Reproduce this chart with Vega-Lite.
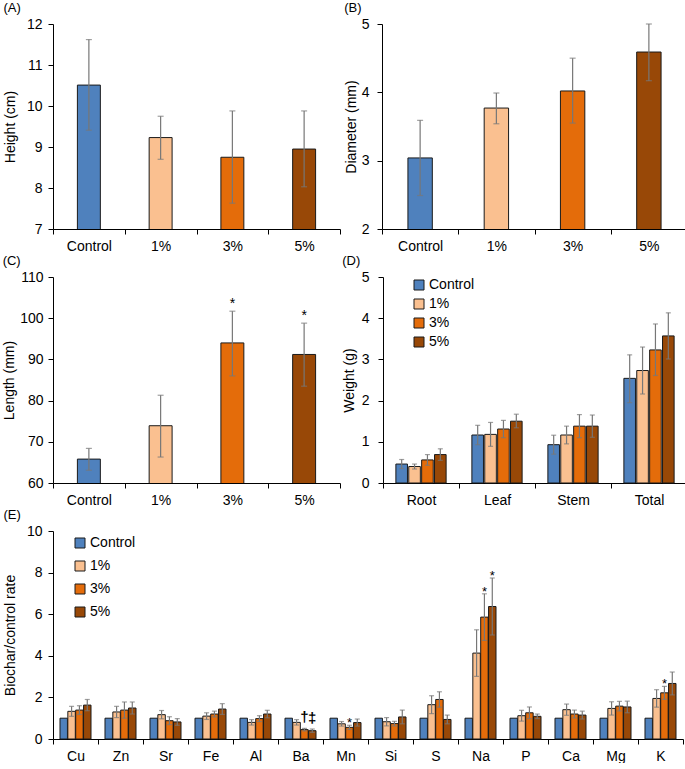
{
  "$schema": "https://vega.github.io/schema/vega-lite/v6.json",
  "background": "white",
  "padding": {"left": 2, "top": 2, "right": 0, "bottom": 0},
  "datasets": {
    "A": [
      {"g": "Control", "m": 10.51, "lo": 9.41, "hi": 11.62},
      {"g": "1%", "m": 9.23, "lo": 8.70, "hi": 9.75},
      {"g": "3%", "m": 8.75, "lo": 7.63, "hi": 9.88},
      {"g": "5%", "m": 8.95, "lo": 8.03, "hi": 9.88}
    ],
    "B": [
      {"g": "Control", "m": 3.04, "lo": 2.49, "hi": 3.59},
      {"g": "1%", "m": 3.77, "lo": 3.54, "hi": 3.99},
      {"g": "3%", "m": 4.02, "lo": 3.55, "hi": 4.50},
      {"g": "5%", "m": 4.59, "lo": 4.17, "hi": 5.00}
    ],
    "C": [
      {"g": "Control", "m": 65.8, "lo": 63.1, "hi": 68.4, "s": ""},
      {"g": "1%", "m": 73.9, "lo": 66.3, "hi": 81.3, "s": ""},
      {"g": "3%", "m": 94.0, "lo": 86.0, "hi": 101.7, "s": "*"},
      {"g": "5%", "m": 91.2, "lo": 83.5, "hi": 98.8, "s": "*"}
    ],
    "D": [
      {"c": "Root", "g": "Control", "m": 0.46, "lo": 0.35, "hi": 0.57},
      {"c": "Root", "g": "1%", "m": 0.40, "lo": 0.34, "hi": 0.46},
      {"c": "Root", "g": "3%", "m": 0.56, "lo": 0.43, "hi": 0.69},
      {"c": "Root", "g": "5%", "m": 0.69, "lo": 0.55, "hi": 0.83},
      {"c": "Leaf", "g": "Control", "m": 1.165, "lo": 0.93, "hi": 1.40},
      {"c": "Leaf", "g": "1%", "m": 1.18, "lo": 0.89, "hi": 1.47},
      {"c": "Leaf", "g": "3%", "m": 1.31, "lo": 1.10, "hi": 1.52},
      {"c": "Leaf", "g": "5%", "m": 1.50, "lo": 1.34, "hi": 1.67},
      {"c": "Stem", "g": "Control", "m": 0.93, "lo": 0.70, "hi": 1.16},
      {"c": "Stem", "g": "1%", "m": 1.165, "lo": 0.95, "hi": 1.38},
      {"c": "Stem", "g": "3%", "m": 1.38, "lo": 1.10, "hi": 1.66},
      {"c": "Stem", "g": "5%", "m": 1.38, "lo": 1.11, "hi": 1.65},
      {"c": "Total", "g": "Control", "m": 2.54, "lo": 1.95, "hi": 3.11},
      {"c": "Total", "g": "1%", "m": 2.73, "lo": 2.16, "hi": 3.30},
      {"c": "Total", "g": "3%", "m": 3.23, "lo": 2.61, "hi": 3.86},
      {"c": "Total", "g": "5%", "m": 3.57, "lo": 3.01, "hi": 4.13}
    ],
    "E": [
      {"c": "Cu", "g": "Control", "m": 1, "lo": null, "hi": null, "s": "", "d": ""},
      {"c": "Cu", "g": "1%", "m": 1.33, "lo": 1.09, "hi": 1.57, "s": "", "d": ""},
      {"c": "Cu", "g": "3%", "m": 1.39, "lo": 1.18, "hi": 1.60, "s": "", "d": ""},
      {"c": "Cu", "g": "5%", "m": 1.63, "lo": 1.36, "hi": 1.90, "s": "", "d": ""},
      {"c": "Zn", "g": "Control", "m": 1, "lo": null, "hi": null, "s": "", "d": ""},
      {"c": "Zn", "g": "1%", "m": 1.30, "lo": 1.03, "hi": 1.57, "s": "", "d": ""},
      {"c": "Zn", "g": "3%", "m": 1.39, "lo": 1.00, "hi": 1.78, "s": "", "d": ""},
      {"c": "Zn", "g": "5%", "m": 1.49, "lo": 1.20, "hi": 1.78, "s": "", "d": ""},
      {"c": "Sr", "g": "Control", "m": 1, "lo": null, "hi": null, "s": "", "d": ""},
      {"c": "Sr", "g": "1%", "m": 1.17, "lo": 0.97, "hi": 1.37, "s": "", "d": ""},
      {"c": "Sr", "g": "3%", "m": 0.88, "lo": 0.69, "hi": 1.07, "s": "", "d": ""},
      {"c": "Sr", "g": "5%", "m": 0.82, "lo": 0.66, "hi": 0.98, "s": "", "d": ""},
      {"c": "Fe", "g": "Control", "m": 1, "lo": null, "hi": null, "s": "", "d": ""},
      {"c": "Fe", "g": "1%", "m": 1.10, "lo": 0.94, "hi": 1.26, "s": "", "d": ""},
      {"c": "Fe", "g": "3%", "m": 1.20, "lo": 1.06, "hi": 1.34, "s": "", "d": ""},
      {"c": "Fe", "g": "5%", "m": 1.44, "lo": 1.18, "hi": 1.70, "s": "", "d": ""},
      {"c": "Al", "g": "Control", "m": 1, "lo": null, "hi": null, "s": "", "d": ""},
      {"c": "Al", "g": "1%", "m": 0.80, "lo": 0.67, "hi": 0.93, "s": "", "d": ""},
      {"c": "Al", "g": "3%", "m": 0.98, "lo": 0.84, "hi": 1.12, "s": "", "d": ""},
      {"c": "Al", "g": "5%", "m": 1.20, "lo": 1.02, "hi": 1.38, "s": "", "d": ""},
      {"c": "Ba", "g": "Control", "m": 1, "lo": null, "hi": null, "s": "", "d": ""},
      {"c": "Ba", "g": "1%", "m": 0.80, "lo": 0.67, "hi": 0.93, "s": "", "d": ""},
      {"c": "Ba", "g": "3%", "m": 0.45, "lo": 0.39, "hi": 0.51, "s": "", "d": "†"},
      {"c": "Ba", "g": "5%", "m": 0.40, "lo": 0.32, "hi": 0.48, "s": "", "d": "‡"},
      {"c": "Mn", "g": "Control", "m": 1, "lo": null, "hi": null, "s": "", "d": ""},
      {"c": "Mn", "g": "1%", "m": 0.73, "lo": 0.62, "hi": 0.84, "s": "", "d": ""},
      {"c": "Mn", "g": "3%", "m": 0.56, "lo": 0.46, "hi": 0.66, "s": "*", "d": ""},
      {"c": "Mn", "g": "5%", "m": 0.79, "lo": 0.62, "hi": 0.96, "s": "", "d": ""},
      {"c": "Si", "g": "Control", "m": 1, "lo": null, "hi": null, "s": "", "d": ""},
      {"c": "Si", "g": "1%", "m": 0.83, "lo": 0.63, "hi": 1.03, "s": "", "d": ""},
      {"c": "Si", "g": "3%", "m": 0.74, "lo": 0.63, "hi": 0.85, "s": "", "d": ""},
      {"c": "Si", "g": "5%", "m": 1.06, "lo": 0.73, "hi": 1.39, "s": "", "d": ""},
      {"c": "S", "g": "Control", "m": 1, "lo": null, "hi": null, "s": "", "d": ""},
      {"c": "S", "g": "1%", "m": 1.65, "lo": 1.22, "hi": 2.08, "s": "", "d": ""},
      {"c": "S", "g": "3%", "m": 1.90, "lo": 1.53, "hi": 2.27, "s": "", "d": ""},
      {"c": "S", "g": "5%", "m": 0.94, "lo": 0.73, "hi": 1.15, "s": "", "d": ""},
      {"c": "Na", "g": "Control", "m": 1, "lo": null, "hi": null, "s": "", "d": ""},
      {"c": "Na", "g": "1%", "m": 4.13, "lo": 3.01, "hi": 5.25, "s": "", "d": ""},
      {"c": "Na", "g": "3%", "m": 5.86, "lo": 4.74, "hi": 6.98, "s": "*", "d": ""},
      {"c": "Na", "g": "5%", "m": 6.37, "lo": 5.00, "hi": 7.74, "s": "*", "d": ""},
      {"c": "P", "g": "Control", "m": 1, "lo": null, "hi": null, "s": "", "d": ""},
      {"c": "P", "g": "1%", "m": 1.12, "lo": 0.86, "hi": 1.38, "s": "", "d": ""},
      {"c": "P", "g": "3%", "m": 1.26, "lo": 0.98, "hi": 1.54, "s": "", "d": ""},
      {"c": "P", "g": "5%", "m": 1.09, "lo": 0.98, "hi": 1.20, "s": "", "d": ""},
      {"c": "Ca", "g": "Control", "m": 1, "lo": null, "hi": null, "s": "", "d": ""},
      {"c": "Ca", "g": "1%", "m": 1.41, "lo": 1.14, "hi": 1.68, "s": "", "d": ""},
      {"c": "Ca", "g": "3%", "m": 1.20, "lo": 1.01, "hi": 1.39, "s": "", "d": ""},
      {"c": "Ca", "g": "5%", "m": 1.15, "lo": 0.96, "hi": 1.34, "s": "", "d": ""},
      {"c": "Mg", "g": "Control", "m": 1, "lo": null, "hi": null, "s": "", "d": ""},
      {"c": "Mg", "g": "1%", "m": 1.47, "lo": 1.15, "hi": 1.79, "s": "", "d": ""},
      {"c": "Mg", "g": "3%", "m": 1.58, "lo": 1.35, "hi": 1.81, "s": "", "d": ""},
      {"c": "Mg", "g": "5%", "m": 1.54, "lo": 1.26, "hi": 1.82, "s": "", "d": ""},
      {"c": "K", "g": "Control", "m": 1, "lo": null, "hi": null, "s": "", "d": ""},
      {"c": "K", "g": "1%", "m": 1.95, "lo": 1.53, "hi": 2.37, "s": "", "d": ""},
      {"c": "K", "g": "3%", "m": 2.22, "lo": 1.91, "hi": 2.53, "s": "*", "d": ""},
      {"c": "K", "g": "5%", "m": 2.67, "lo": 2.12, "hi": 3.22, "s": "", "d": ""}
    ]
  },
  "spacing": 2,
  "resolve": {"scale": {"color": "independent", "xOffset": "independent"}, "legend": {"color": "independent"}},
  "vconcat": [
    {
      "spacing": 3,
      "resolve": {"scale": {"color": "independent"}, "legend": {"color": "independent"}},
      "hconcat": [
        {
          "title": "(A)",
          "width": 287, "height": 205,
          "data": {"name": "A"},
          "encoding": {"x": {"field": "g", "type": "nominal", "sort": null, "scale": {"paddingInner": 0, "paddingOuter": 0}}},
          "layer": [
            {"mark": {"type": "bar", "width": {"band": 0.32}, "stroke": "#1a1a1a", "strokeWidth": 1, "clip": true},
             "encoding": {
               "y": {"field": "m", "type": "quantitative", "title": "Height (cm)", "scale": {"domain": [7, 12], "zero": false, "nice": false}, "axis": {"values": [7, 8, 9, 10, 11, 12], "format": "d", "labelPadding": 6, "titlePadding": 9}},
               "color": {"field": "g", "type": "nominal", "scale": {"domain": ["Control", "1%", "3%", "5%"], "range": ["#4f81bd", "#fac090", "#e46c0a", "#984807"]}, "legend": null}}},
            {"mark": {"type": "rule", "color": "#777777", "strokeWidth": 1.2},
             "encoding": {"y": {"field": "lo", "type": "quantitative", "title": "Height (cm)"}, "y2": {"field": "hi"}}},
            {"mark": {"type": "tick", "color": "#777777", "size": 6, "thickness": 1.2},
             "encoding": {"y": {"field": "lo", "type": "quantitative", "title": "Height (cm)"}}},
            {"mark": {"type": "tick", "color": "#777777", "size": 6, "thickness": 1.2},
             "encoding": {"y": {"field": "hi", "type": "quantitative", "title": "Height (cm)"}}}
          ]
        },
        {
          "title": "(B)",
          "width": 305, "height": 205,
          "data": {"name": "B"},
          "encoding": {"x": {"field": "g", "type": "nominal", "sort": null, "scale": {"paddingInner": 0, "paddingOuter": 0}}},
          "layer": [
            {"mark": {"type": "bar", "width": {"band": 0.32}, "stroke": "#1a1a1a", "strokeWidth": 1, "clip": true},
             "encoding": {
               "y": {"field": "m", "type": "quantitative", "title": "Diameter (mm)", "scale": {"domain": [2, 5], "zero": false, "nice": false}, "axis": {"values": [2, 3, 4, 5], "format": "d", "labelPadding": 8, "titlePadding": 3}},
               "color": {"field": "g", "type": "nominal", "scale": {"domain": ["Control", "1%", "3%", "5%"], "range": ["#4f81bd", "#fac090", "#e46c0a", "#984807"]}, "legend": null}}},
            {"mark": {"type": "rule", "color": "#777777", "strokeWidth": 1.2},
             "encoding": {"y": {"field": "lo", "type": "quantitative", "title": "Diameter (mm)"}, "y2": {"field": "hi"}}},
            {"mark": {"type": "tick", "color": "#777777", "size": 6, "thickness": 1.2},
             "encoding": {"y": {"field": "lo", "type": "quantitative", "title": "Diameter (mm)"}}},
            {"mark": {"type": "tick", "color": "#777777", "size": 6, "thickness": 1.2},
             "encoding": {"y": {"field": "hi", "type": "quantitative", "title": "Diameter (mm)"}}}
          ]
        }
      ]
    },
    {
      "spacing": 1,
      "resolve": {"scale": {"color": "independent"}, "legend": {"color": "independent"}},
      "hconcat": [
        {
          "title": "(C)",
          "width": 287, "height": 206,
          "data": {"name": "C"},
          "encoding": {"x": {"field": "g", "type": "nominal", "sort": null, "scale": {"paddingInner": 0, "paddingOuter": 0}}},
          "layer": [
            {"mark": {"type": "bar", "width": {"band": 0.32}, "stroke": "#1a1a1a", "strokeWidth": 1, "clip": true},
             "encoding": {
               "y": {"field": "m", "type": "quantitative", "title": "Length (mm)", "scale": {"domain": [60, 110], "zero": false, "nice": false}, "axis": {"values": [60, 70, 80, 90, 100, 110], "format": "d", "labelPadding": 5, "titlePadding": 3}},
               "color": {"field": "g", "type": "nominal", "scale": {"domain": ["Control", "1%", "3%", "5%"], "range": ["#4f81bd", "#fac090", "#e46c0a", "#984807"]}, "legend": null}}},
            {"mark": {"type": "rule", "color": "#777777", "strokeWidth": 1.2},
             "encoding": {"y": {"field": "lo", "type": "quantitative", "title": "Length (mm)"}, "y2": {"field": "hi"}}},
            {"mark": {"type": "tick", "color": "#777777", "size": 6, "thickness": 1.2},
             "encoding": {"y": {"field": "lo", "type": "quantitative", "title": "Length (mm)"}}},
            {"mark": {"type": "tick", "color": "#777777", "size": 6, "thickness": 1.2},
             "encoding": {"y": {"field": "hi", "type": "quantitative", "title": "Length (mm)"}}},
            {"mark": {"type": "text", "baseline": "alphabetic", "dy": -3, "fontSize": 14, "color": "#000", "font": "Liberation Sans"},
             "encoding": {"y": {"field": "hi", "type": "quantitative", "title": "Length (mm)"}, "text": {"field": "s"}}}
          ]
        },
        {
          "title": "(D)",
          "width": 304, "height": 206,
          "data": {"name": "D"},
          "encoding": {
            "x": {"field": "c", "type": "nominal", "sort": null, "scale": {"paddingInner": 0, "paddingOuter": 0}},
            "xOffset": {"field": "g", "type": "nominal", "sort": ["Control", "1%", "3%", "5%"], "scale": {"paddingInner": 0.1, "paddingOuter": 1.0}}
          },
          "layer": [
            {"mark": {"type": "bar", "stroke": "#1a1a1a", "strokeWidth": 1},
             "encoding": {
               "y": {"field": "m", "type": "quantitative", "title": "Weight (g)", "scale": {"domain": [0, 5], "nice": false}, "axis": {"values": [0, 1, 2, 3, 4, 5], "format": "d", "labelPadding": 9, "titlePadding": 5}},
               "color": {"field": "g", "type": "nominal", "scale": {"domain": ["Control", "1%", "3%", "5%"], "range": ["#4f81bd", "#fac090", "#e46c0a", "#984807"]},
                 "legend": {"orient": "none", "legendX": 29, "legendY": 1, "title": null, "rowPadding": 5}}}},
            {"mark": {"type": "rule", "color": "#777777", "strokeWidth": 1.2},
             "encoding": {"y": {"field": "lo", "type": "quantitative", "title": "Weight (g)"}, "y2": {"field": "hi"}}},
            {"mark": {"type": "tick", "color": "#777777", "size": 5, "thickness": 1.2},
             "encoding": {"y": {"field": "lo", "type": "quantitative", "title": "Weight (g)"}}},
            {"mark": {"type": "tick", "color": "#777777", "size": 5, "thickness": 1.2},
             "encoding": {"y": {"field": "hi", "type": "quantitative", "title": "Weight (g)"}}}
          ]
        }
      ]
    },
    {
      "title": "(E)",
      "width": 630, "height": 208,
      "data": {"name": "E"},
      "encoding": {
        "x": {"field": "c", "type": "nominal", "sort": null, "scale": {"paddingInner": 0, "paddingOuter": 0}},
        "xOffset": {"field": "g", "type": "nominal", "sort": ["Control", "1%", "3%", "5%"], "scale": {"paddingInner": 0.05, "paddingOuter": 0.89}}
      },
      "layer": [
        {"mark": {"type": "bar", "stroke": "#1a1a1a", "strokeWidth": 1},
         "encoding": {
           "y": {"field": "m", "type": "quantitative", "title": "Biochar/control rate", "scale": {"domain": [0, 10], "nice": false}, "axis": {"values": [0, 2, 4, 6, 8, 10], "format": "d", "labelPadding": 6, "titlePadding": 9}},
           "color": {"field": "g", "type": "nominal", "scale": {"domain": ["Control", "1%", "3%", "5%"], "range": ["#4f81bd", "#fac090", "#e46c0a", "#984807"]},
             "legend": {"orient": "none", "legendX": 20, "legendY": 5, "title": null, "rowPadding": 9}}}},
        {"mark": {"type": "rule", "color": "#777777", "strokeWidth": 1.2},
         "encoding": {"y": {"field": "lo", "type": "quantitative", "title": "Biochar/control rate"}, "y2": {"field": "hi"}}},
        {"mark": {"type": "tick", "color": "#777777", "size": 5, "thickness": 1.2},
         "encoding": {"y": {"field": "lo", "type": "quantitative", "title": "Biochar/control rate"}}},
        {"mark": {"type": "tick", "color": "#777777", "size": 5, "thickness": 1.2},
         "encoding": {"y": {"field": "hi", "type": "quantitative", "title": "Biochar/control rate"}}},
        {"mark": {"type": "text", "baseline": "alphabetic", "dy": 2, "fontSize": 13, "color": "#000", "font": "Liberation Sans"},
         "encoding": {"y": {"field": "hi", "type": "quantitative", "title": "Biochar/control rate"}, "text": {"field": "s"}}},
        {"mark": {"type": "text", "baseline": "alphabetic", "dy": -6, "fontSize": 15, "fontWeight": "bold", "color": "#000", "font": "Liberation Sans"},
         "encoding": {"y": {"field": "hi", "type": "quantitative", "title": "Biochar/control rate"}, "text": {"field": "d"}}}
      ]
    }
  ],
  "config": {
    "font": "Liberation Sans",
    "view": {"stroke": null},
    "title": {"anchor": "start", "frame": "bounds", "fontSize": 13, "fontWeight": "normal", "font": "Liberation Sans", "color": "#000", "offset": 2},
    "axis": {"grid": false, "labelFont": "Liberation Sans", "titleFont": "Liberation Sans", "labelFontSize": 14, "titleFontSize": 14, "titleFontWeight": "normal", "labelColor": "#000", "titleColor": "#000", "domainColor": "#000", "tickColor": "#000", "domainWidth": 1, "tickWidth": 1},
    "axisX": {"tickBand": "extent", "labelAngle": 0, "title": null, "tickSize": 5, "labelPadding": 5},
    "axisY": {"tickSize": 5},
    "legend": {"symbolType": "square", "symbolSize": 100, "symbolStrokeColor": "#1a1a1a", "symbolStrokeWidth": 1, "symbolOpacity": 1, "labelFont": "Liberation Sans", "labelFontSize": 14, "labelColor": "#000", "labelOffset": 3, "padding": 0}
  }
}
